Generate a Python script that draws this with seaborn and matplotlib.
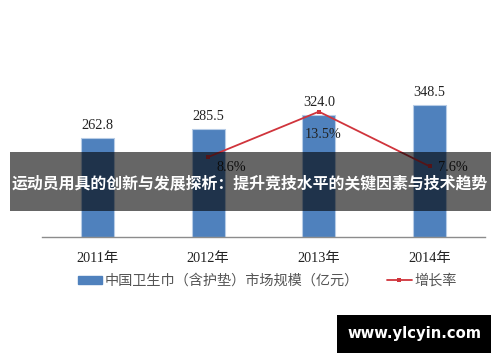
import matplotlib
matplotlib.use("Agg")
import matplotlib.pyplot as plt
import seaborn as sns
import pandas as pd
from matplotlib.patches import Rectangle, Patch
from matplotlib.lines import Line2D

years = ["2011年", "2012年", "2013年", "2014年"]
market_size = [262.8, 285.5, 324.0, 348.5]
growth_years_idx = [1, 2, 3]
growth_rate = [8.6, 13.5, 7.6]
growth_labels = ["8.6%", "13.5%", "7.6%"]
bar_label_name = "中国卫生巾（含护垫）市场规模（亿元）"
line_label_name = "增长率"
banner_text = "运动员用具的创新与发展探析：提升竞技水平的关键因素与技术趋势"
watermark_text = "www.ylcyin.com"

sns.set_theme(style="white")
plt.rcParams['font.family'] = ['Liberation Serif', 'Noto Sans CJK SC', 'DejaVu Sans']

BAR = "#4F81BD"
RED = "#D0343C"

fig = plt.figure(figsize=(5.0, 3.62), dpi=100)
ax = fig.add_axes([0.084, 0.346, 0.886, 0.599])

df = pd.DataFrame({"year": years, "size": market_size})
sns.barplot(data=df, x="year", y="size", color=BAR, width=0.3, ax=ax,
            edgecolor="#B7CCE6", linewidth=0.8, saturation=1)
ax.set_xlim(-0.5, 3.5)
ax.set_ylim(0, 575)
for i, v in enumerate(market_size):
    ax.annotate(f"{v:.1f}", (i, v), xytext=(0, 9), textcoords="offset points",
                ha="center", va="center", fontsize=10.3, color="#222222",
                family=['Liberation Serif'])

ax2 = ax.twinx()
gdf = pd.DataFrame({"x": growth_years_idx, "g": growth_rate})
sns.lineplot(data=gdf, x="x", y="g", ax=ax2, color=RED, linewidth=1.3,
             marker="s", markersize=3.5, markeredgewidth=0)
ax2.set_ylim(0, 23.4)
ax2.set_xlim(-0.5, 3.5)
offsets = [(17, -7.5), (3, -16.5), (17, -0.8)]
for xi, g, lab, off in zip(growth_years_idx, growth_rate, growth_labels, offsets):
    ax2.annotate(lab, (xi, g), xytext=off, textcoords="offset points",
                 ha="center", va="center", fontsize=10.3, color="#222222",
                 family=['Liberation Serif'])

for a in (ax, ax2):
    a.set_xlabel("")
    a.set_ylabel("")
    a.set_yticks([])
    for s in ("top", "left", "right"):
        a.spines[s].set_visible(False)
ax2.spines["bottom"].set_visible(False)
ax2.set_xticks([])
ax.spines["bottom"].set_color("#8C8C8C")
ax.spines["bottom"].set_linewidth(1.0)
ax.set_xticks(range(len(years)))
ax.set_xticklabels(years, fontsize=10.3, color="#222222")
ax.tick_params(axis="x", which="major", length=0, pad=11)
ax.set_xticks([-0.5, 0.5, 1.5, 2.5, 3.5], minor=True)
ax.tick_params(axis="x", which="minor", length=4, direction="in", color="#8C8C8C", width=1.0)

handles = [Patch(facecolor=BAR, edgecolor=BAR),
           Line2D([0], [0], color=RED, lw=1.3, marker="s", markersize=3, markeredgewidth=0)]
leg = fig.legend(handles, [bar_label_name, line_label_name], loc="center",
                 bbox_to_anchor=(0.534, 0.224), ncol=2, frameon=False,
                 handlelength=1.75, handleheight=0.45, handletextpad=0.15,
                 columnspacing=2.0, prop={'family': ['Noto Sans CJK SC'], 'size': 10.2})
for t in leg.get_texts():
    t.set_color("#555555")

fig.add_artist(Rectangle((0.02, 0.418), 0.962, 0.163, transform=fig.transFigure,
                         facecolor="black", alpha=0.6, edgecolor="none", zorder=5))
fig.text(0.5, 0.4945, banner_text, ha="center", va="center", color="white",
         fontsize=11.45, fontweight="bold", family=['Noto Sans CJK SC'], zorder=6)

fig.add_artist(Rectangle((0.674, 0.0257), 0.308, 0.104, transform=fig.transFigure,
                         facecolor="black", edgecolor="none", zorder=5))
fig.text(0.828, 0.078, watermark_text, ha="center", va="center", color="white",
         fontsize=10.6, fontweight="bold", family=['DejaVu Sans'], zorder=6)

fig.savefig("out.png", dpi=100)
